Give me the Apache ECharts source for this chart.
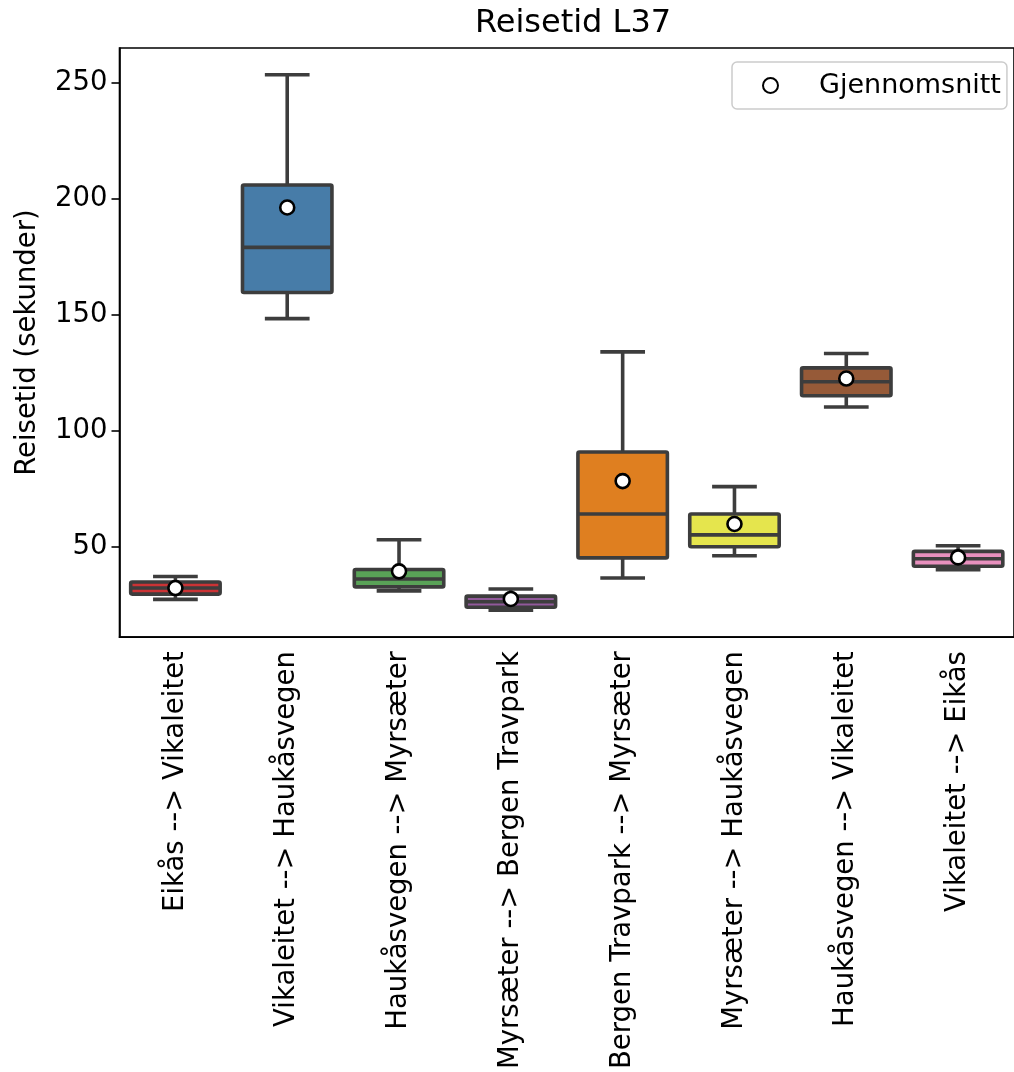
<!DOCTYPE html>
<html>
<head>
<meta charset="utf-8">
<script src="https://cdn.jsdelivr.net/npm/echarts@6/dist/echarts.min.js"></script>
<style>
  html, body { margin: 0; padding: 0; background: #ffffff; }
  #chart { width: 1014px; height: 1072px; }
</style>
</head>
<body>
<div id="chart"></div>
<script>
// Travel time per stretch of route L37 (seconds)
const categories = [
  'Eikås --> Vikaleitet',
  'Vikaleitet --> Haukåsvegen',
  'Haukåsvegen --> Myrsæter',
  'Myrsæter --> Bergen Travpark',
  'Bergen Travpark --> Myrsæter',
  'Myrsæter --> Haukåsvegen',
  'Haukåsvegen --> Vikaleitet',
  'Vikaleitet --> Eikås'
];
const whiskerLow  = [27.2, 148.2, 30.9, 22.5, 36.4, 46.0, 110.1, 40.0];
const quartile1   = [29.5, 159.5, 32.6, 23.8, 45.1, 49.9, 115.0, 41.5];
const medians     = [32.1, 178.9, 36.0, 26.2, 64.0, 55.0, 121.0, 44.7];
const quartile3   = [34.7, 205.8, 40.1, 28.6, 90.7, 64.0, 127.0, 47.9];
const whiskerHigh = [37.1, 253.3, 52.9, 31.7, 133.9, 75.8, 133.2, 50.3];
const means       = [32.1, 196.1, 39.3, 27.4, 78.2, 59.7, 122.4, 45.3];
const yTicks      = [50, 100, 150, 200, 250];

const boxColors = ['#cb3335', '#477ca8', '#59a257', '#91599a', '#df7f20', '#e5e54d', '#965a38', '#e890be'];
const edgeColor = '#3d3d3d';
const font = 'DejaVu Sans';
const labelSize = 27.5;

// axis limits with a 5% margin around the whisker range
const lo = Math.min(...whiskerLow), hi = Math.max(...whiskerHigh);
const pad = (hi - lo) * 0.05;

const boxRows = categories.map((c, i) =>
  [i, whiskerLow[i], quartile1[i], medians[i], quartile3[i], whiskerHigh[i]]);
const meanRows = categories.map((c, i) => [i, means[i]]);

const chart = echarts.init(document.getElementById('chart'), null, { renderer: 'canvas' });

chart.setOption({
  animation: false,
  backgroundColor: '#ffffff',
  title: {
    text: 'Reisetid L37',
    left: 568,
    top: 3,
    textAlign: 'center',
    textStyle: { fontFamily: font, fontSize: 32, fontWeight: 'normal', color: '#000' }
  },
  legend: {
    data: ['Gjennomsnitt'],
    left: 732,
    top: 62,
    orient: 'vertical',
    padding: [10, 6, 10, 30],
    itemWidth: 15,
    itemHeight: 15,
    borderColor: '#cccccc',
    borderWidth: 1.5,
    borderRadius: 5,
    backgroundColor: '#ffffff',
    textStyle: { fontFamily: font, fontSize: 27, color: '#000', padding: [0, 0, 0, 36] }
  },
  grid: {
    left: 119.5,
    top: 48,
    width: 905,
    height: 590,
    show: true,
    borderColor: '#000',
    borderWidth: 1.6,
    backgroundColor: 'transparent'
  },
  xAxis: {
    type: 'category',
    data: categories,
    boundaryGap: true,
    axisLine: { lineStyle: { color: '#000', width: 1.6 } },
    axisTick: { alignWithLabel: true, length: 8, lineStyle: { color: '#000', width: 1.6 } },
    axisLabel: {
      interval: 0, rotate: 90, margin: 14,
      fontFamily: font, fontSize: labelSize, color: '#000'
    },
    splitLine: { show: false }
  },
  yAxis: {
    type: 'value',
    min: lo - pad,
    max: hi + pad,
    name: 'Reisetid (sekunder)',
    nameLocation: 'middle',
    nameGap: 78,
    nameTextStyle: { fontFamily: font, fontSize: labelSize, color: '#000' },
    axisLine: { show: true, lineStyle: { color: '#000', width: 1.6 } },
    axisTick: { show: true, length: 8, customValues: yTicks, lineStyle: { color: '#000', width: 1.6 } },
    axisLabel: {
      customValues: yTicks, margin: 12,
      fontFamily: font, fontSize: labelSize, color: '#000'
    },
    splitLine: { show: false }
  },
  series: [
    {
      type: 'custom',
      name: 'Reisetid',
      data: boxRows,
      encode: { x: 0, y: [1, 2, 3, 4, 5] },
      renderItem: function (params, api) {
        const i = api.value(0);
        const pLow = api.coord([i, api.value(1)]);
        const pQ1 = api.coord([i, api.value(2)]);
        const pMed = api.coord([i, api.value(3)]);
        const pQ3 = api.coord([i, api.value(4)]);
        const pHigh = api.coord([i, api.value(5)]);
        const band = api.size([1, 0])[0];
        const bw = band * 0.8;
        const cw = bw / 2;
        const x = pLow[0];
        const line = { stroke: edgeColor, lineWidth: 3.6, lineCap: 'butt' };
        return {
          type: 'group',
          children: [
            { type: 'line', shape: { x1: x, y1: pQ1[1], x2: x, y2: pLow[1] }, style: line },
            { type: 'line', shape: { x1: x, y1: pQ3[1], x2: x, y2: pHigh[1] }, style: line },
            { type: 'line', shape: { x1: x - cw / 2, y1: pLow[1], x2: x + cw / 2, y2: pLow[1] }, style: line },
            { type: 'line', shape: { x1: x - cw / 2, y1: pHigh[1], x2: x + cw / 2, y2: pHigh[1] }, style: line },
            {
              type: 'rect',
              shape: { x: x - bw / 2, y: pQ3[1], width: bw, height: pQ1[1] - pQ3[1], r: 1.5 },
              style: { fill: boxColors[i], stroke: edgeColor, lineWidth: 3.6, lineJoin: 'round' }
            },
            { type: 'line', shape: { x1: x - bw / 2, y1: pMed[1], x2: x + bw / 2, y2: pMed[1] }, style: line }
          ]
        };
      },
      z: 2
    },
    {
      type: 'scatter',
      name: 'Gjennomsnitt',
      data: meanRows,
      symbol: 'circle',
      symbolSize: 14,
      itemStyle: { color: '#ffffff', borderColor: '#000000', borderWidth: 2.6, opacity: 1 },
      z: 5
    }
  ]
});
</script>
</body>
</html>
